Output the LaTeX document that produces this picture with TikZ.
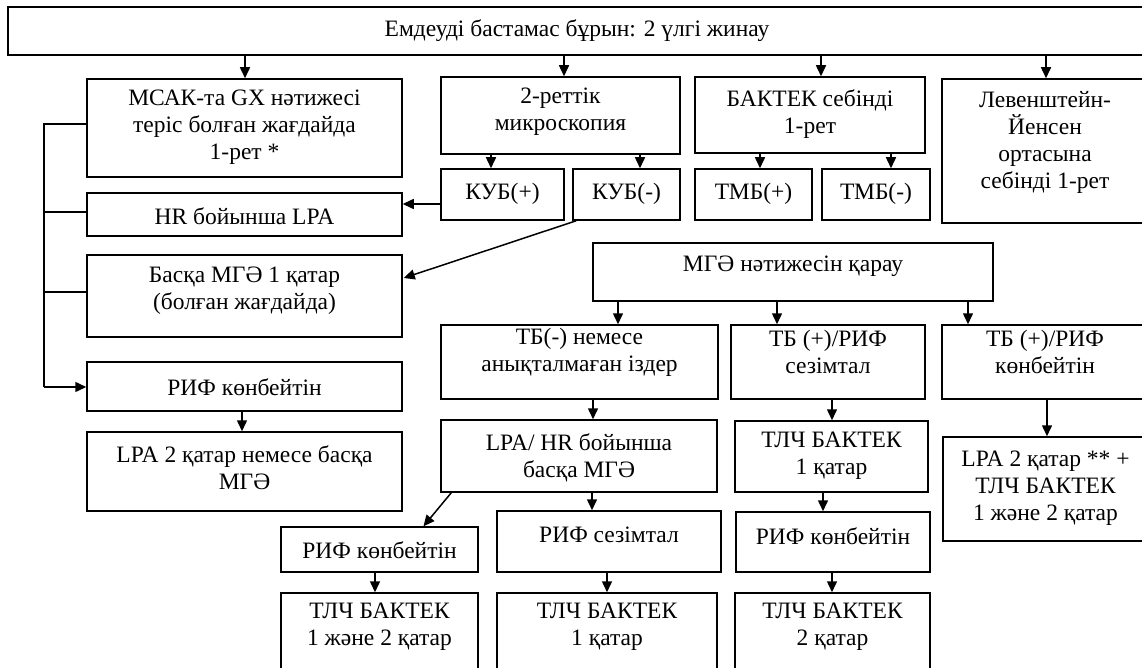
\documentclass[tikz,border=0pt]{standalone}
\usepackage{fontspec}
\setmainfont{Liberation Serif}
\usetikzlibrary{arrows.meta,calc}
\tikzset{
  box/.style={draw, line width=1.5pt, inner sep=0pt},
  txt/.style={align=center, inner sep=0pt, font=\fontsize{23.5}{27}\selectfont},
  arr/.style={line width=1.5pt, -{Triangle[width=10pt,length=11pt]}},
  ln/.style={line width=1.5pt},
}
% name, x1, y1, x2, y2, text-y, text
\newcommand\bx[7]{%
  \node[box, minimum width={(#4)-(#2)}, minimum height={(#5)-(#3)}] (#1) at ({((#2)+(#4))/2},{((#3)+(#5))/2}) {};
  \node[txt] (#1t) at ({((#2)+(#4))/2},#6) {#7};
}
% vertical arrow at x from node south to node north
\newcommand\va[3]{%
  \coordinate (tmp) at (#1,0);
  \draw[arr] (#2.south -| tmp) -- (#3.north -| tmp);
}
\begin{document}
\begin{tikzpicture}[x=1pt,y=-1pt]
\useasboundingbox (0,0) rectangle (1142,668);
\clip (0,0) rectangle (1142,668);
\fill[white] (0,0) rectangle (1142,668);

\bx{top}{8}{7}{1146}{55}{31}{Емдеуді бастамас бұрын: 2 үлгі жинау}
\bx{A}{87}{79}{402}{177}{127}{МСАК-та GX нәтижесі\\теріс болған жағдайда\\1-рет *}
\bx{micro}{441}{77}{680}{154}{112}{2-реттік\\микроскопия}
\bx{bactec}{695}{77}{925}{153}{114}{БАКТЕК себінді\\1-рет}
\bx{lev}{942}{79}{1148}{223}{142}{Левенштейн-\\Йенсен\\ортасына\\себінді 1-рет}
\bx{kubp}{441}{169}{564}{220}{194}{КУБ(+)}
\bx{kubm}{573}{169}{680}{220}{194}{КУБ(-)}
\bx{tmbp}{695}{169}{812}{220}{194}{ТМБ(+)}
\bx{tmbm}{822}{169}{930}{220}{194}{ТМБ(-)}
\bx{hr}{87}{193}{402}{236}{216}{HR бойынша LPA}
\bx{baska}{87}{255}{402}{337}{291}{Басқа МГӘ 1 қатар\\(болған жағдайда)}
\bx{rifL}{87}{362}{402}{411}{387}{РИФ көнбейтін}
\bx{lpa2}{87}{432}{402}{511}{468}{LPA 2 қатар немесе басқа\\МГӘ}
\bx{mge}{593}{243}{993}{301}{266}{МГӘ нәтижесін қарау}
\bx{tbm}{441}{325}{718}{399}{352}{ТБ(-) немесе\\анықталмаған іздер}
\bx{tbs}{731}{325}{925}{399}{352}{ТБ (+)/РИФ\\сезімтал}
\bx{tbr}{942}{325}{1148}{399}{352}{ТБ (+)/РИФ\\көнбейтін}
\bx{lpahr}{441}{420}{717}{492}{458}{LPA/ HR бойынша\\басқа МГӘ}
\bx{tlcA}{735}{421}{928}{492}{456}{ТЛЧ БАКТЕК\\1 қатар}
\bx{lpab}{943}{437}{1148}{541}{488}{LPA 2 қатар ** +\\ТЛЧ БАКТЕК\\1 және 2 қатар}
\bx{rifB}{281}{527}{478}{572}{550}{РИФ көнбейтін}
\bx{rifs}{497}{511}{721}{572}{535}{РИФ сезімтал}
\bx{rifr}{736}{512}{930}{572}{536}{РИФ көнбейтін}
\bx{tlcB}{281}{593}{478}{690}{627}{ТЛЧ БАКТЕК\\1 және 2 қатар}
\bx{tlcC}{497}{593}{717}{690}{627}{ТЛЧ БАКТЕК\\1 қатар}
\bx{tlcD}{735}{593}{930}{690}{627}{ТЛЧ БАКТЕК\\2 қатар}

% arrows from the top box
\va{245}{top}{A}
\va{564}{top}{micro}
\va{821}{top}{bactec}
\va{1046}{top}{lev}
% second row
\va{491}{micro}{kubp}
\va{640}{micro}{kubm}
\va{760}{bactec}{tmbp}
\va{891}{bactec}{tmbm}
% KUB arrows
\coordinate (tmp) at (0,204);
\draw[arr] (kubp.west |- tmp) -- (hr.east |- tmp);
\draw[arr] ($(kubm.south west)+(4,0)$) -- ($(baska.east)+(1,-18)$);
% left column
\va{242}{rifL}{lpa2}
\coordinate (bk1) at (44,124);
\coordinate (bk2) at (44,212);
\coordinate (bk3) at (44,292);
\coordinate (bk4) at (44,387);
\draw[ln] (A.west |- bk1) -- (bk1) -- (bk4);
\draw[ln] (hr.west |- bk2) -- (bk2);
\draw[ln] (baska.west |- bk3) -- (bk3);
\draw[arr] (bk4) -- (rifL.west |- bk4);
% MGE branch
\va{618}{mge}{tbm}
\va{777}{mge}{tbs}
\va{968}{mge}{tbr}
\va{593}{tbm}{lpahr}
\va{832}{tbs}{tlcA}
\va{1047}{tbr}{lpab}
\draw[arr] ($(lpahr.south west)+(11,0)$) -- ($(rifB.north)+(44,0)$);
\va{592}{lpahr}{rifs}
\va{823}{tlcA}{rifr}
\va{375}{rifB}{tlcB}
\va{607}{rifs}{tlcC}
\va{832}{rifr}{tlcD}
\end{tikzpicture}
\end{document}
